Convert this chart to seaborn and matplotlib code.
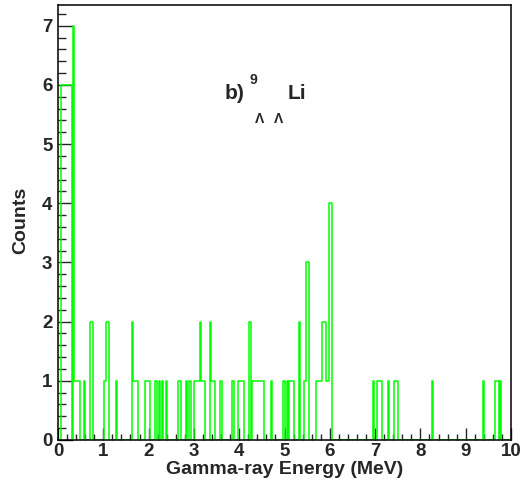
import numpy as np
import pandas as pd
import matplotlib
matplotlib.use("Agg")
import matplotlib.pyplot as plt
import seaborn as sns
from matplotlib.ticker import MultipleLocator

# Histogram: piecewise constant segments (MeV) and counts
seg_left = [0.075, 0.325, 0.35, 0.575, 0.70, 1.025, 1.05, 1.275, 1.625, 1.65,
            1.925, 2.15, 2.225, 2.30, 2.375, 2.65, 2.825, 2.90, 3.00, 3.125,
            3.15, 3.35, 3.375, 3.575, 3.85, 3.975, 4.225, 4.275, 4.70, 4.975,
            5.05, 5.10, 5.325, 5.425, 5.475, 5.70, 5.825, 5.925, 5.975, 6.95,
            7.05, 7.275, 7.425, 8.25, 9.375, 9.65, 9.75]
seg_right = [0.30, 0.35, 0.475, 0.60, 0.775, 1.05, 1.125, 1.30, 1.65, 1.775,
             2.025, 2.175, 2.25, 2.325, 2.40, 2.725, 2.85, 2.925, 3.125, 3.15,
             3.25, 3.375, 3.475, 3.625, 3.875, 4.10, 4.25, 4.55, 4.725, 5.00,
             5.075, 5.20, 5.35, 5.475, 5.55, 5.825, 5.925, 5.975, 6.05, 6.975,
             7.15, 7.30, 7.50, 8.275, 9.40, 9.725, 9.775]
seg_counts = [6, 7, 1, 1, 2, 1, 2, 1, 2, 1,
              1, 1, 1, 1, 1, 1, 1, 1, 1, 2,
              1, 2, 1, 1, 1, 1, 2, 1, 1, 1,
              1, 1, 2, 1, 3, 1, 2, 1, 4, 1,
              1, 1, 1, 1, 1, 1, 1]

x_min, x_max = 0.0, 10.0
y_max = 7.35
xlabel = "Gamma-ray Energy (MeV)"
ylabel = "Counts"

# Build histogram table (edges + weights) from the segments
edges = np.unique(np.round([x_min, x_max] + seg_left + seg_right, 4))
mids = (edges[:-1] + edges[1:]) / 2
cnt = np.zeros(len(mids))
for l, r, c in zip(seg_left, seg_right, seg_counts):
    cnt[(mids > l) & (mids < r)] = c
df = pd.DataFrame({"energy": mids, "counts": cnt})

sns.set_style("white")
plt.rcParams["font.family"] = ["Liberation Sans", "DejaVu Sans"]

W, H = 522, 488
fig = plt.figure(figsize=(W / 100, H / 100), dpi=100)
ax = fig.add_axes([58 / W, 48 / H, 453 / W, 435 / H])

sns.histplot(data=df, x="energy", weights="counts", bins=[float(e) for e in edges],
             element="step", fill=False, color="#00ff00", linewidth=1.1, ax=ax)

ax.set_xlim(x_min, x_max)
ax.set_ylim(0, y_max)
ax.set_xlabel("")
ax.set_ylabel("")

for s in ax.spines.values():
    s.set_color("black")
    s.set_linewidth(1.1)
    s.set_visible(True)

ax.xaxis.set_major_locator(MultipleLocator(1))
ax.xaxis.set_minor_locator(MultipleLocator(0.2))
ax.yaxis.set_major_locator(MultipleLocator(1))
ax.yaxis.set_minor_locator(MultipleLocator(0.2))
ax.tick_params(axis="x", which="major", direction="in", length=8.5, width=1.0,
               top=False, bottom=True, pad=2.5, labelsize=13.5)
ax.tick_params(axis="x", which="minor", direction="in", length=4.5, width=1.0,
               top=False, bottom=True)
ax.tick_params(axis="y", which="major", direction="in", length=10.5, width=1.0,
               right=False, left=True, pad=4, labelsize=13.5)
ax.tick_params(axis="y", which="minor", direction="in", length=5.5, width=1.0,
               right=False, left=True)
for lab in ax.get_xticklabels() + ax.get_yticklabels():
    lab.set_fontweight("bold")

def fx(px):
    return px / W

def fy(py):
    return 1 - py / H

fig.text(fx(284.5), fy(470), xlabel, ha="center", va="center",
         fontsize=14, fontweight="bold")
fig.text(fx(21), fy(220), ylabel, ha="center", va="center", rotation=90,
         fontsize=14, fontweight="bold")

# Annotation  b)^9_{ΛΛ}Li
fig.text(fx(225), fy(99), "b)", ha="left", va="baseline", fontsize=15, fontweight="bold")
fig.text(fx(250), fy(84), "9", ha="left", va="baseline", fontsize=10, fontweight="bold")
fig.text(fx(255), fy(123), "Λ", ha="left", va="baseline", fontsize=10, fontweight="bold")
fig.text(fx(274), fy(123), "Λ", ha="left", va="baseline", fontsize=10, fontweight="bold")
fig.text(fx(288), fy(99), "Li", ha="left", va="baseline", fontsize=15, fontweight="bold")

fig.savefig("out.png", dpi=100)
